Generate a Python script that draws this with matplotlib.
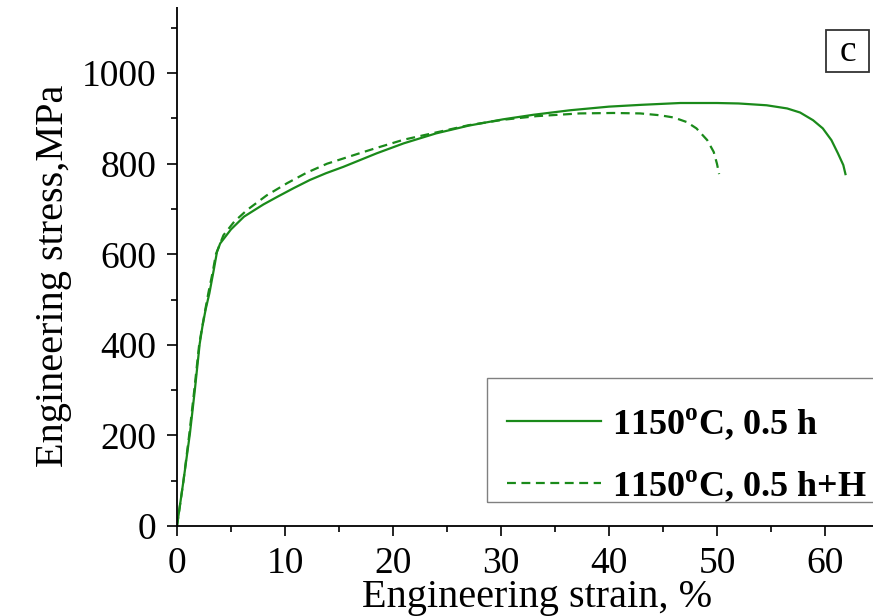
import numpy as np
import matplotlib
matplotlib.use("Agg")
import matplotlib.pyplot as plt
from matplotlib.patches import Rectangle
from matplotlib.ticker import MultipleLocator

# solid curve: 1150 C, 0.5 h
strain_a = [0, 0.6, 1.2, 1.65, 2.1, 2.35, 2.65, 3.0, 3.4, 3.7, 4.0, 5.0, 6.2, 8.0,
            9.3, 10.8, 12.3, 13.8, 15.4, 18.5, 21, 24, 27, 30.2, 33, 36.4, 40,
            43, 46.6, 50, 52, 54.6, 56.5, 57.7, 58.9, 59.8, 60.6, 61.2, 61.7, 61.9]
stress_a = [0, 100, 205, 300, 402, 440, 478, 514, 565, 605, 624, 655, 683, 710,
            727, 746, 764, 779, 793, 823, 845, 867, 884, 898, 908, 918, 926,
            930, 934, 934, 933, 929, 922, 913, 896, 878, 852, 823, 797, 777]

# dashed curve: 1150 C, 0.5 h + H
strain_b = [0, 0.6, 1.15, 1.6, 2.05, 2.3, 2.6, 2.9, 3.3, 3.6, 4.3, 5.3, 6.5, 8.3,
            10.2, 12, 13.9, 16.9, 18.5, 21, 24, 27, 30.2, 33.3, 37.3, 40.4, 42.9,
            44.7, 46.0, 47.2, 48.1, 49.1, 49.7, 50.0, 50.2]
stress_b = [0, 100, 205, 300, 400, 435, 475, 514, 560, 600, 642, 672, 698, 730,
            757, 780, 800, 823, 835, 853, 869, 885, 897, 905, 911, 912, 911,
            907, 902, 892, 878, 852, 826, 800, 777]

labels = [r"1150$^{\mathbf{o}}$C, 0.5 h", r"1150$^{\mathbf{o}}$C, 0.5 h+H"]

plt.rcParams["font.family"] = ["Liberation Serif", "DejaVu Serif"]
plt.rcParams["mathtext.fontset"] = "custom"
plt.rcParams["mathtext.rm"] = "Liberation Serif"
plt.rcParams["mathtext.bf"] = "Liberation Serif:bold"

green = "#1a8a1a"

fig = plt.figure(figsize=(8.73, 6.16), dpi=100)
ax = fig.add_axes([177 / 873, 90 / 616, 696 / 873, 519 / 616])

ax.plot(strain_a, stress_a, color=green, lw=1.6, label=labels[0])
ax.plot(strain_b, stress_b, color=green, lw=1.6, dashes=(4, 2.5), label=labels[1])

ax.set_xlim(0, 64.45)
ax.set_ylim(0, 1146)
ax.xaxis.set_major_locator(MultipleLocator(10))
ax.xaxis.set_minor_locator(MultipleLocator(5))
ax.yaxis.set_major_locator(MultipleLocator(200))
ax.yaxis.set_minor_locator(MultipleLocator(100))

for s in ["top", "right"]:
    ax.spines[s].set_visible(False)
for s in ["left", "bottom"]:
    ax.spines[s].set_linewidth(1.3)
    ax.spines[s].set_capstyle("butt")

ax.tick_params(which="major", direction="out", length=7, width=1.2, labelsize=27, pad=8)
ax.tick_params(which="minor", direction="out", length=4, width=1.2)

ax.set_xlabel("Engineering strain, %", fontsize=29)
ax.set_ylabel("Engineering stress,MPa", fontsize=29)
ax.xaxis.set_label_coords(0.517, -0.103)
ax.yaxis.set_label_coords(-0.151, 0.482)

# legend without its own frame; frame drawn as a separate box
leg = ax.legend(loc="upper left", bbox_to_anchor=(487 / 873, 1 - 386 / 616),
                bbox_transform=fig.transFigure, borderaxespad=0,
                prop={"size": 26, "weight": "bold"}, handlelength=2.6,
                handletextpad=0.3, labelspacing=0.73, borderpad=0.55,
                frameon=False)
fig.patches.append(Rectangle((487 / 873, 1 - 502 / 616), 400 / 873, 124 / 616,
                             transform=fig.transFigure, fill=False,
                             edgecolor="#808080", linewidth=1.0))

# panel letter box
fig.patches.append(Rectangle((826 / 873, 1 - 72 / 616), 43 / 873, 42 / 616,
                             transform=fig.transFigure, fill=False,
                             edgecolor="#333333", linewidth=1.3))
fig.text(848 / 873, 1 - 52 / 616, "c", fontsize=27, ha="center", va="center")

fig.savefig("out.png", dpi=100)
